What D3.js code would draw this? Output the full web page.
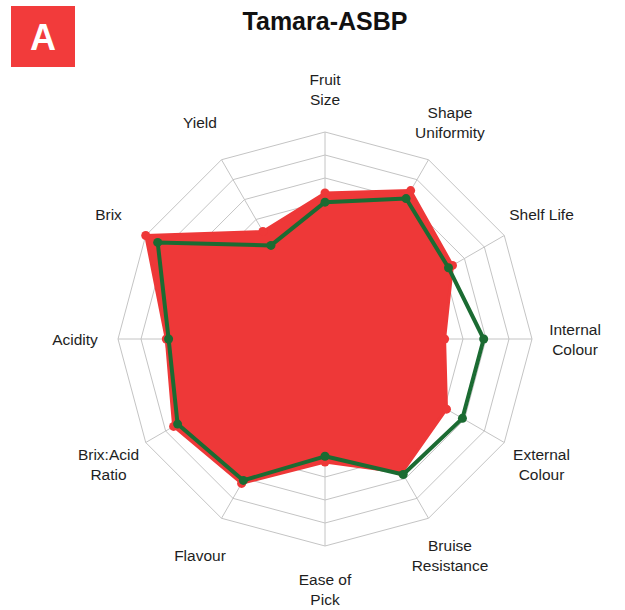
<!DOCTYPE html>
<html>
<head>
<meta charset="utf-8">
<script src="https://cdn.jsdelivr.net/npm/d3@7"></script>
<style>
  body { margin: 0; background: #fff; }
  svg { display: block; font-family: "Liberation Sans", Arial, sans-serif; }
</style>
</head>
<body>
<div id="chart"></div>
<script>
// traits, clockwise from the top
var traits = ["Fruit Size", "Shape Uniformity", "Shelf Life", "Internal Colour",
  "External Colour", "Bruise Resistance", "Ease of Pick", "Flavour",
  "Brix:Acid Ratio", "Acidity", "Brix", "Yield"];
// label line breaks as in the picture
var traitLines = [["Fruit", "Size"], ["Shape", "Uniformity"], ["Shelf Life"], ["Internal", "Colour"],
  ["External", "Colour"], ["Bruise", "Resistance"], ["Ease of", "Pick"], ["Flavour"],
  ["Brix:Acid", "Ratio"], ["Acidity"], ["Brix"], ["Yield"]];
var redValues = [6.35, 7.45, 6.4, 5.2, 6.1, 6.7, 5.35, 7.25, 7.6, 6.9, 9.0, 5.4];
var greenValues = [5.95, 7.05, 6.2, 6.9, 6.9, 6.8, 5.1, 7.1, 7.4, 6.8, 8.4, 4.7];
var gridLevels = [1, 2, 3, 4, 5, 6, 7, 8, 9];

var width = 625, height = 610;
var cx = 325, cy = 339, outer = 207;

var svg = d3.select("#chart").append("svg").attr("width", width).attr("height", height);

var r = d3.scaleLinear().domain([0, 9]).range([0, outer]);
var angle = d3.scaleLinear().domain([0, traits.length]).range([0, 2 * Math.PI]);

function pt(i, v) {
  var a = angle(i);
  return [cx + r(v) * Math.sin(a), cy - r(v) * Math.cos(a)];
}

// panel tag
svg.append("rect").attr("x", 11).attr("y", 6).attr("width", 64).attr("height", 61).attr("fill", "#f23b3b");
svg.append("text").attr("x", 43).attr("y", 50).attr("text-anchor", "middle")
  .attr("fill", "#fff").attr("font-weight", "bold").attr("font-size", 36).text("A");

svg.append("text").attr("x", 325).attr("y", 30).attr("text-anchor", "middle")
  .attr("font-weight", "bold").attr("font-size", 25).attr("fill", "#111").text("Tamara-ASBP");

var g = svg.append("g");

// grid
var ringLine = d3.line();
g.selectAll(".ring").data(gridLevels).enter().append("path")
  .attr("d", function (lv) { return ringLine(traits.map(function (t, i) { return pt(i, lv); })) + "Z"; })
  .attr("fill", "none").attr("stroke", "#c4c4c4").attr("stroke-width", 1);
g.selectAll(".spoke").data(traits).enter().append("line")
  .attr("x1", cx).attr("y1", cy)
  .attr("x2", function (d, i) { return pt(i, 9)[0]; })
  .attr("y2", function (d, i) { return pt(i, 9)[1]; })
  .attr("stroke", "#c4c4c4").attr("stroke-width", 1);

var radial = d3.lineRadial()
  .angle(function (d, i) { return angle(i); })
  .radius(function (d) { return r(d); })
  .curve(d3.curveLinearClosed);

var red = "#ee3838", green = "#1b6b32";

// red series (filled)
g.append("path").attr("transform", "translate(" + cx + "," + cy + ")")
  .attr("d", radial(redValues)).attr("fill", red).attr("stroke", red).attr("stroke-width", 3)
  .attr("stroke-linejoin", "round");
g.selectAll(".rdot").data(redValues).enter().append("circle")
  .attr("cx", function (d, i) { return pt(i, d)[0]; })
  .attr("cy", function (d, i) { return pt(i, d)[1]; })
  .attr("r", 4.5).attr("fill", red);

// green series
g.append("path").attr("transform", "translate(" + cx + "," + cy + ")")
  .attr("d", radial(greenValues)).attr("fill", "none").attr("stroke", green).attr("stroke-width", 4)
  .attr("stroke-linejoin", "round");
g.selectAll(".gdot").data(greenValues).enter().append("circle")
  .attr("cx", function (d, i) { return pt(i, d)[0]; })
  .attr("cy", function (d, i) { return pt(i, d)[1]; })
  .attr("r", 4.5).attr("fill", green);

// trait labels
var lineH = 20;
traitLines.forEach(function (lines, i) {
  var p = pt(i, 9 * 250 / outer);
  var t = svg.append("text").attr("text-anchor", "middle").attr("font-size", 15.5).attr("fill", "#1e1e1e");
  lines.forEach(function (s, k) {
    t.append("tspan").attr("x", p[0])
      .attr("y", p[1] + (k - (lines.length - 1) / 2) * lineH)
      .attr("dy", "0.36em").text(s);
  });
});
</script>
</body>
</html>
